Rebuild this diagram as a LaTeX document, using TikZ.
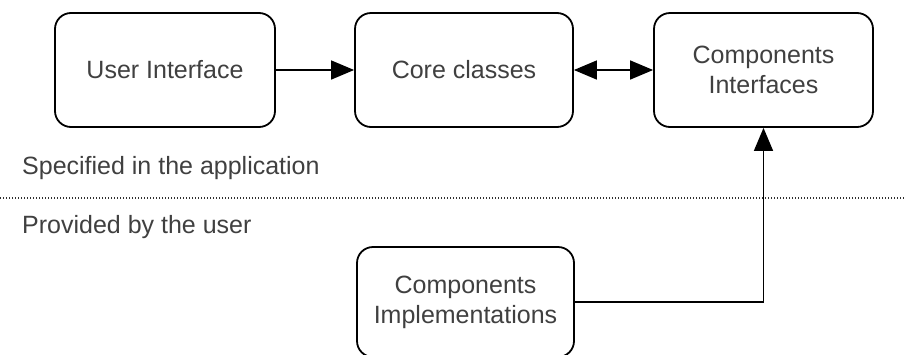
\documentclass[tikz,border=0pt]{standalone}
\usepackage{fontspec}
\setmainfont{Liberation Sans}
\usetikzlibrary{arrows.meta}
\definecolor{txt}{HTML}{404040}
\definecolor{dots}{HTML}{303030}
\tikzset{
  box/.style={draw=black, line width=1.8pt, rounded corners=16pt, fill=white,
    text=txt, font=\fontsize{25}{30}\selectfont, align=center,
    inner sep=0pt, minimum height=114pt},
  conn/.style={line width=1.5pt, -{Triangle[length=23pt,width=19pt]}},
  biconn/.style={line width=1.5pt, {Triangle[length=23pt,width=19pt]}-{Triangle[length=23pt,width=19pt]}},
  lbl/.style={anchor=west, text=txt, font=\fontsize{25}{30}\selectfont, inner sep=0pt},
}
\begin{document}
\begin{tikzpicture}[x=1pt,y=-1pt]
\useasboundingbox (0,0) rectangle (905,354);
\node[box, minimum width=220pt] (ui) at (165,70) {User Interface};
\node[box, minimum width=218pt] (core) at (464,70) {Core classes};
\node[box, minimum width=219pt] (ci) at (763.5,70) {Components\\Interfaces};
\node[box, minimum width=217pt, minimum height=110pt] (impl) at (465.5,302) {Components\\Implementations};
\node[lbl] (spec) at (22,168) {Specified in the application};
\node[lbl] (prov) at (22,227) {Provided by the user};
\coordinate (dl) at (0,198);
\coordinate (dr) at (905,198);
\draw[dots, line width=1.2pt, dash pattern=on 1.2pt off 1.8pt] (dl) -- (dr);
\draw[conn] (ui) -- (core);
\draw[biconn] (core) -- (ci);
\draw[conn] (impl.east) -| (ci.south);
\end{tikzpicture}
\end{document}
